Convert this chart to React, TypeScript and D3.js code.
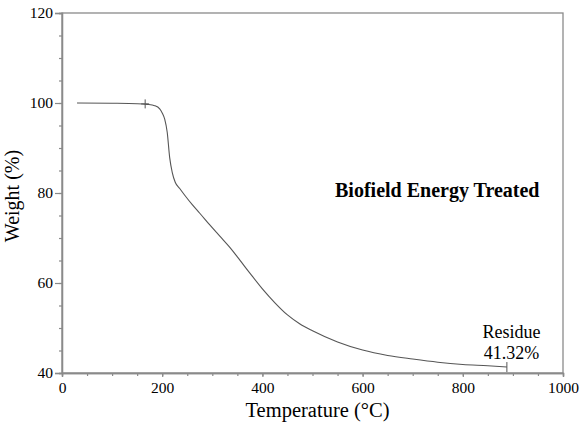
import React, { useRef, useEffect } from 'react';
import * as d3 from 'd3';

// TGA curve (temperature in °C, weight in %)
const temps = [30, 100, 150, 170, 185, 195, 200, 205, 210, 215, 220, 226, 235, 245, 260, 275, 295, 315, 335, 350, 375, 400, 425, 450, 475, 500, 550, 600, 650, 700, 750, 800, 850, 888];
const weights = [100, 99.95, 99.85, 99.7, 99.4, 98.7, 97.8, 96.4, 93.5, 87.8, 84.6, 82.4, 81, 79.5, 77.4, 75.5, 72.9, 70.4, 67.9, 65.8, 62.2, 58.7, 55.6, 52.9, 50.9, 49.4, 46.9, 45.1, 43.9, 43.1, 42.4, 41.9, 41.6, 41.32];

const xTicks = [0, 200, 400, 600, 800, 1000];
const yTicks = [40, 60, 80, 100, 120];

const onsetTemp = 166;
const onsetWeight = 99.8;
const residueTemp = 888;
const residueLabel = ['Residue', '41.32%'];
const title = 'Biofield Energy Treated';

const App: React.FC = () => {
    const svgRef = useRef<SVGSVGElement | null>(null);

    useEffect(() => {
        if (!svgRef.current) return;
        const svg = d3.select(svgRef.current);
        svg.selectAll('*').remove();

        const margin = { top: 13, right: 17, bottom: 50, left: 62 };
        const width = 580;
        const height = 423;
        const innerWidth = width - margin.left - margin.right;
        const innerHeight = height - margin.top - margin.bottom;

        const x = d3.scaleLinear().domain([0, 1000]).range([0, innerWidth]);
        const y = d3.scaleLinear().domain([40, 120]).range([innerHeight, 0]);

        const g = svg.append('g')
            .attr('transform', `translate(${margin.left},${margin.top})`);

        const axisColor = '#8a8a8a';
        const font = '"Liberation Serif", "Times New Roman", serif';

        // frame
        g.append('rect')
            .attr('width', innerWidth)
            .attr('height', innerHeight)
            .attr('fill', 'none')
            .attr('stroke', axisColor)
            .attr('stroke-width', 1.3);

        // minor ticks
        const xAxisMinor = g.append('g')
            .attr('transform', `translate(0,${innerHeight})`)
            .call(d3.axisBottom(x).tickValues(d3.range(0, 1001, 50)).tickSize(3).tickFormat(() => ''));
        const yAxisMinor = g.append('g')
            .call(d3.axisLeft(y).tickValues(d3.range(40, 121, 5)).tickSize(3).tickFormat(() => ''));

        const xAxis = g.append('g')
            .attr('transform', `translate(0,${innerHeight})`)
            .call(d3.axisBottom(x).tickValues(xTicks).tickSize(4).tickPadding(5).tickFormat(d3.format('d')));
        const yAxis = g.append('g')
            .call(d3.axisLeft(y).tickValues(yTicks).tickSize(7).tickPadding(2).tickFormat(d3.format('d')));

        [xAxisMinor, yAxisMinor, xAxis, yAxis].forEach(a => {
            a.attr('font-family', font).attr('font-size', 15.5);
            a.select('.domain').attr('stroke', axisColor).attr('stroke-width', 1.3);
            a.selectAll('line').attr('stroke', axisColor).attr('stroke-width', 1.2);
            a.selectAll('text').attr('fill', '#000');
        });

        // curve
        const points: [number, number][] = temps.map((t, i) => [t, weights[i]]);
        const line = d3.line<[number, number]>()
            .x(d => x(d[0]))
            .y(d => y(d[1]))
            .curve(d3.curveMonotoneX);

        g.append('path')
            .datum(points)
            .attr('d', line)
            .attr('fill', 'none')
            .attr('stroke', '#555')
            .attr('stroke-width', 1.1);

        // onset cross marker
        const ox = x(onsetTemp);
        const oy = y(onsetWeight);
        g.append('path')
            .attr('d', `M${ox - 4},${oy}H${ox + 4}M${ox},${oy - 4.5}V${oy + 4.5}`)
            .attr('stroke', '#555')
            .attr('stroke-width', 1);

        // residue end marker
        const rx = x(residueTemp);
        const ry = y(weights[weights.length - 1]);
        g.append('line')
            .attr('x1', rx).attr('x2', rx)
            .attr('y1', ry - 5).attr('y2', ry + 5)
            .attr('stroke', '#555')
            .attr('stroke-width', 1);

        g.selectAll('text.residue')
            .data(residueLabel)
            .enter()
            .append('text')
            .attr('class', 'residue')
            .attr('x', x(897))
            .attr('y', (d, i) => 325 + i * 21)
            .attr('text-anchor', 'middle')
            .attr('font-family', font)
            .attr('font-size', 18)
            .text(d => d);

        g.append('text')
            .attr('x', x(545))
            .attr('y', 184)
            .attr('font-family', font)
            .attr('font-size', 20)
            .attr('font-weight', 'bold')
            .text(title);

        // axis titles
        svg.append('text')
            .attr('x', margin.left + innerWidth / 2 + 5)
            .attr('y', 417)
            .attr('text-anchor', 'middle')
            .attr('font-family', font)
            .attr('font-size', 20.5)
            .text('Temperature (°C)');

        svg.append('text')
            .attr('transform', `translate(19,${margin.top + innerHeight / 2 + 3}) rotate(-90)`)
            .attr('text-anchor', 'middle')
            .attr('font-family', font)
            .attr('font-size', 20)
            .text('Weight (%)');
    }, []);

    return (
        <svg
            ref={svgRef}
            width={580}
            height={423}
            style={{ position: 'absolute', left: 0, top: 0, background: '#fff' }}
        />
    );
};

export default App;
